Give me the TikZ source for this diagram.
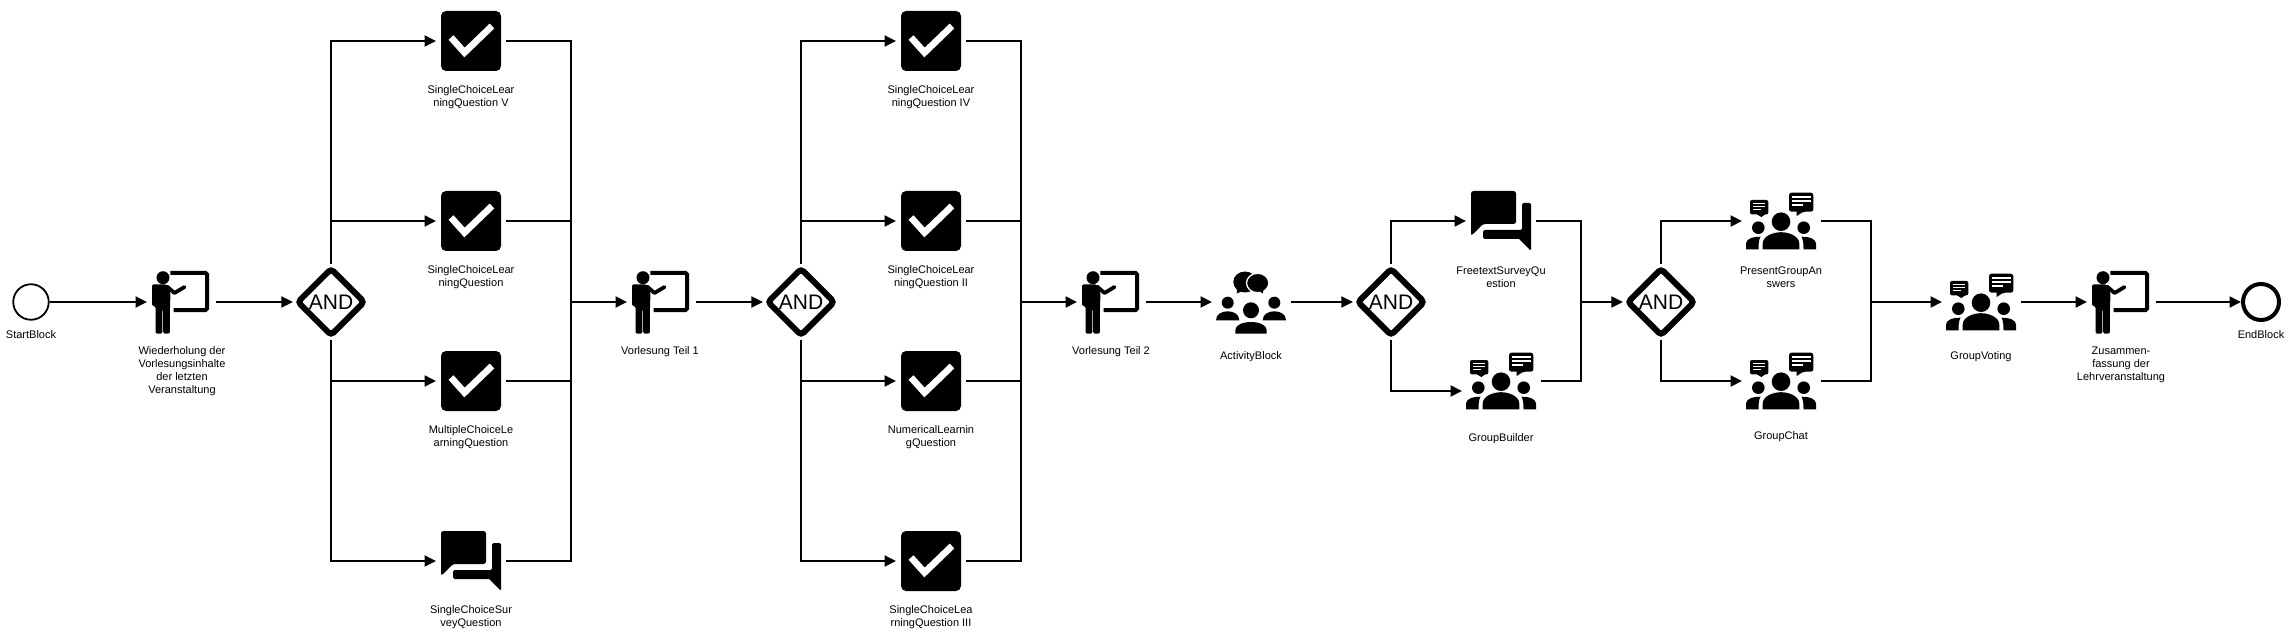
\documentclass[tikz,border=0pt]{standalone}
\usepackage{fontspec}
\setmainfont{Liberation Sans}
\usetikzlibrary{arrows.meta,shapes.geometric}
\tikzset{
 flow/.style={line width=1.9pt,-{Triangle[length=11.5pt,width=11pt]}},
 merge/.style={line width=1.9pt},
 startevent/.style={circle,draw,line width=1.8pt,minimum size=35.5pt,inner sep=0pt},
 endevent/.style={circle,draw,line width=4pt,minimum size=36pt,inner sep=0pt},
 gateway/.style={diamond,draw,line width=6pt,rounded corners=3.5pt,minimum size=69pt,inner sep=0pt,outer sep=3.6pt,font=\fontsize{21}{22}\selectfont},
 taskbox/.style={minimum width=70pt,minimum height=70pt,inner sep=0pt,outer sep=0pt},
 teacherbox/.style={minimum width=69pt,minimum height=70pt,inner sep=0pt,outer sep=0pt},
 groupbox/.style={minimum width=79pt,minimum height=60pt,inner sep=0pt,outer sep=0pt},
 lbl/.style={align=center,inner sep=0pt,yshift=-1.6pt,font=\fontsize{11}{13}\selectfont},
 checkicon/.pic={
  \fill[rounded corners=5pt] (-30,-30) rectangle (30,30);
  \draw[white,line width=6.7pt] (-20,-3.5) -- (-6.5,11.5) -- (21,-15);
 },
 speechicon/.pic={
  \begin{scope}[shift={(-30,-30)}]
   \fill[rounded corners=2.5pt] (0,45) -- (0,0) -- (45,0) -- (45,33) -- (12,33) -- cycle;
   \fill[rounded corners=1.5pt] (51,12) -- (60,12) -- (60,60) [sharp corners] -- (48,48) [rounded corners=1.5pt] -- (12,48) -- (12,39) -- (51,39) -- cycle;
  \end{scope}
 },
 teachericon/.pic={
  \begin{scope}[shift={(-29.5,-31)}]
   \fill (11,6.7) circle (6.5);
   \fill[rounded corners=2pt] (0,35) -- (0,13.3) -- (15,13.3) -- (18.5,21) -- (17.9,40) -- (17.9,62.7) -- (11.2,62.7) -- (11.2,38) -- (10.4,38) -- (10.4,62.7) -- (3.5,62.7) -- (3.5,35) -- cycle;
   \draw[line width=3.8pt,line cap=round,line join=round] (15,15.5) -- (22.5,22) -- (32.5,16);
   \draw[line width=3.8pt,rounded corners=1.5pt] (18.3,1.9) -- (55.1,1.9) -- (55.1,39.1) -- (21.7,39.1);
  \end{scope}
 },
 peopleicon/.pic={
  \begin{scope}[shift={(-35.5,-28.3)}]
   \fill (35,29) circle (9.3);
   \fill (12.3,35) circle (6.3);
   \fill (57.7,35) circle (6.3);
   \fill (16.7,56.7) -- (16.7,51) .. controls (16.7,43.5) and (27,39.5) .. (35,39.5) .. controls (43,39.5) and (53.3,43.5) .. (53.3,51) -- (53.3,56.7) -- cycle;
   \fill (0,56.7) -- (0,51) .. controls (0,46.5) and (6,44) .. (14.5,44) .. controls (12.7,47) and (12.5,52) .. (12.5,56.7) -- cycle;
   \fill (70,56.7) -- (70,51) .. controls (70,46.5) and (64,44) .. (55.5,44) .. controls (57.3,47) and (57.5,52) .. (57.5,56.7) -- cycle;
   % small bubble
   \fill[rounded corners=2pt] (4,7.3) -- (22.3,7.3) -- (22.3,21.7) -- (17.5,21.7) [sharp corners] -- (15.7,24.5) -- (11,21.7) [rounded corners=2pt] -- (4,21.7) -- cycle;
   \fill[white] (7.3,10) rectangle (19,11.2);
   \fill[white] (7.3,13) rectangle (19,14.2);
   \fill[white] (7.3,16) rectangle (14.5,17.2);
   % big bubble
   \fill[rounded corners=2.5pt] (43,0) -- (67.3,0) -- (67.3,19) -- (57,19) [sharp corners] -- (50.7,23.3) -- (50.7,19) [rounded corners=2.5pt] -- (43,19) -- cycle;
   \fill[white] (46,3.3) rectangle (64.5,5);
   \fill[white] (46,7.3) rectangle (64.5,9);
   \fill[white] (46,11.3) rectangle (57,13);
  \end{scope}
 },
 activityicon/.pic={
  \begin{scope}[shift={(-35.5,-31)}]
   \fill (11.7,31.7) circle (6);
   \fill (58.3,31.7) circle (6);
   \fill (35,39.3) circle (8);
   \fill (0,49.3) .. controls (0,43) and (6,40.3) .. (11.7,40.3) .. controls (17.3,40.3) and (23.3,43) .. (23.3,49.3) -- cycle;
   \fill (46.7,49.3) .. controls (46.7,43) and (52.7,40.3) .. (58.3,40.3) .. controls (64,40.3) and (70,43) .. (70,49.3) -- cycle;
   \fill (19.3,62.7) -- (19.3,59) .. controls (19.3,54) and (27,51) .. (35,51) .. controls (43,51) and (50.7,54) .. (50.7,59) -- (50.7,62.7) -- cycle;
   % bubbles
   \fill (29,11) ellipse (11.7 and 10.5);
   \fill (21,16) -- (20.7,22.5) -- (29,19) -- cycle;
   \fill[draw=white,line width=1.3pt] (41.7,12) ellipse (11.2 and 9.7);
   \fill (42,19) -- (46.7,22.5) -- (48,17) -- cycle;
  \end{scope}
 }
}
\begin{document}
\begin{tikzpicture}[x=1pt,y=-1pt]
 \useasboundingbox (0,0) rectangle (2291,636);
 \node[startevent] (start) at (31,302) {};
 \node[teacherbox] (rep) at (181.5,302) {};
 \node[gateway] (and1) at (331,302) {AND};
 \node[taskbox] (sclqv) at (471,41) {};
 \node[taskbox] (sclq) at (471,221) {};
 \node[taskbox] (mclq) at (471,381) {};
 \node[taskbox] (scsq) at (471,561) {};
 \coordinate (join1) at (571,302);
 \node[teacherbox] (teil1) at (661.5,302) {};
 \node[gateway] (and2) at (801,302) {AND};
 \node[taskbox] (sclqiv) at (931,41) {};
 \node[taskbox] (sclqii) at (931,221) {};
 \node[taskbox] (nlq) at (931,381) {};
 \node[taskbox] (sclqiii) at (931,561) {};
 \coordinate (join2) at (1021,302);
 \node[teacherbox] (teil2) at (1111.5,302) {};
 \node[groupbox] (activity) at (1251.5,302) {};
 \node[gateway] (and3) at (1391,302) {AND};
 \node[taskbox] (ftsq) at (1501,221) {};
 \node[groupbox] (builder) at (1501.5,381) {};
 \coordinate (join3) at (1581,302);
 \node[gateway] (and4) at (1661,302) {AND};
 \node[groupbox] (present) at (1781.5,221) {};
 \node[groupbox] (chat) at (1781.5,381) {};
 \coordinate (join4) at (1871,302);
 \node[groupbox] (voting) at (1981.5,302) {};
 \node[teacherbox] (summary) at (2121.5,302) {};
 \node[endevent] (end) at (2261,302) {};
 %
 \pic at (rep) {teachericon};
 \pic at (teil1) {teachericon};
 \pic at (teil2) {teachericon};
 \pic at (summary) {teachericon};
 \pic at (sclqv) {checkicon};
 \pic at (sclq) {checkicon};
 \pic at (mclq) {checkicon};
 \pic at (scsq) {speechicon};
 \pic at (sclqiv) {checkicon};
 \pic at (sclqii) {checkicon};
 \pic at (nlq) {checkicon};
 \pic at (sclqiii) {checkicon};
 \pic at (activity) {activityicon};
 \pic at (ftsq) {speechicon};
 \pic at (builder) {peopleicon};
 \pic at (present) {peopleicon};
 \pic at (chat) {peopleicon};
 \pic at (voting) {peopleicon};
 %
 \node[lbl] (startlbl) at (31,333) {StartBlock};
 \node[lbl] (replbl) at (182,370) {Wiederholung der\\Vorlesungsinhalte\\der letzten\\Veranstaltung};
 \node[lbl] (sclqvlbl) at (471,95.5) {SingleChoiceLear\\ningQuestion V};
 \node[lbl] (sclqlbl) at (471,275.5) {SingleChoiceLear\\ningQuestion};
 \node[lbl] (mclqlbl) at (471,435.5) {MultipleChoiceLe\\arningQuestion};
 \node[lbl] (scsqlbl) at (471,615.5) {SingleChoiceSur\\veyQuestion};
 \node[lbl] (teil1lbl) at (660,350) {Vorlesung Teil 1};
 \node[lbl] (sclqivlbl) at (931,95.5) {SingleChoiceLear\\ningQuestion IV};
 \node[lbl] (sclqiilbl) at (931,275.5) {SingleChoiceLear\\ningQuestion II};
 \node[lbl] (nlqlbl) at (931,435.5) {NumericalLearnin\\gQuestion};
 \node[lbl] (sclqiiilbl) at (931,615.5) {SingleChoiceLea\\rningQuestion III};
 \node[lbl] (teil2lbl) at (1111,350) {Vorlesung Teil 2};
 \node[lbl] (activitylbl) at (1251,355) {ActivityBlock};
 \node[lbl] (ftsqlbl) at (1501,275.5) {FreetextSurveyQu\\estion};
 \node[lbl] (builderlbl) at (1501,437) {GroupBuilder};
 \node[lbl] (presentlbl) at (1781,275.5) {PresentGroupAn\\swers};
 \node[lbl] (chatlbl) at (1781,435) {GroupChat};
 \node[lbl] (votinglbl) at (1981,355) {GroupVoting};
 \node[lbl] (summarylbl) at (2121,363.5) {Zusammen-\\fassung der\\Lehrveranstaltung};
 \node[lbl] (endlbl) at (2261,333) {EndBlock};
 %
 \draw[flow] (start) -- (rep);
 \draw[flow] (rep) -- (and1);
 \draw[flow] (and1.north) |- (sclqv.west);
 \draw[flow] (and1.north) |- (sclq.west);
 \draw[flow] (and1.south) |- (mclq.west);
 \draw[flow] (and1.south) |- (scsq.west);
 \draw[merge] (sclqv.east) -| (join1);
 \draw[merge] (sclq.east) -| (join1);
 \draw[merge] (mclq.east) -| (join1);
 \draw[merge] (scsq.east) -| (join1);
 \draw[flow] (join1) -- (teil1);
 \draw[flow] (teil1) -- (and2);
 \draw[flow] (and2.north) |- (sclqiv.west);
 \draw[flow] (and2.north) |- (sclqii.west);
 \draw[flow] (and2.south) |- (nlq.west);
 \draw[flow] (and2.south) |- (sclqiii.west);
 \draw[merge] (sclqiv.east) -| (join2);
 \draw[merge] (sclqii.east) -| (join2);
 \draw[merge] (nlq.east) -| (join2);
 \draw[merge] (sclqiii.east) -| (join2);
 \draw[flow] (join2) -- (teil2);
 \draw[flow] (teil2) -- (activity);
 \draw[flow] (activity) -- (and3);
 \draw[flow] (and3.north) |- (ftsq.west);
 \draw[flow] (and3.south) |- ([yshift=-10pt]builder.west);
 \draw[merge] (ftsq.east) -| (join3);
 \draw[merge] (builder.east) -| (join3);
 \draw[flow] (join3) -- (and4);
 \draw[flow] (and4.north) |- (present.west);
 \draw[flow] (and4.south) |- (chat.west);
 \draw[merge] (present.east) -| (join4);
 \draw[merge] (chat.east) -| (join4);
 \draw[flow] (join4) -- (voting);
 \draw[flow] (voting) -- (summary);
 \draw[flow] (summary) -- (end);
\end{tikzpicture}
\end{document}
